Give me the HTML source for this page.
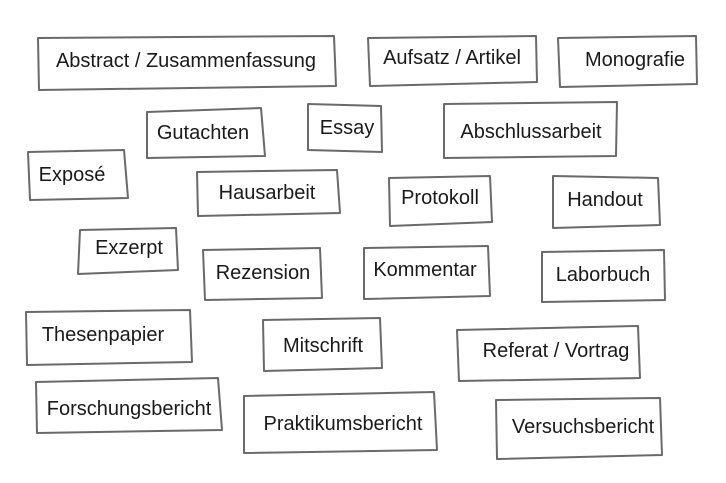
<!DOCTYPE html>
<html><head><meta charset="utf-8"><style>
html,body{margin:0;padding:0;background:#fff;width:726px;height:483px;overflow:hidden}
svg{display:block}
text{font-family:"Liberation Sans",sans-serif;font-size:20px;fill:#1a1a1a;text-anchor:middle;dominant-baseline:central}
polygon{fill:none;stroke:#6a6a6a;stroke-width:2;stroke-linejoin:round}
</style></head><body>
<svg width="726" height="483" viewBox="0 0 726 483">
<polygon points="38,38 334,36 336,86 39,90"/><text x="186" y="61">Abstract / Zusammenfassung</text>
<polygon points="368,38 536,36 537,82 370,86"/><text x="452" y="58">Aufsatz / Artikel</text>
<polygon points="558,38 696,36 697,84 560,87"/><text x="635" y="60">Monografie</text>
<polygon points="147,112 261,108 265,156 147,158"/><text x="203" y="133">Gutachten</text>
<polygon points="308,104 381,106 382,152 308,150"/><text x="347" y="128">Essay</text>
<polygon points="444,104 617,102 616,156 444,158"/><text x="531" y="132">Abschlussarbeit</text>
<polygon points="28,152 124,150 128,198 30,200"/><text x="72" y="175">Exposé</text>
<polygon points="197,172 337,170 340,213 198,216"/><text x="267" y="193">Hausarbeit</text>
<polygon points="389,178 490,176 492,222 390,226"/><text x="440" y="198">Protokoll</text>
<polygon points="553,176 658,178 660,225 553,228"/><text x="605" y="200">Handout</text>
<polygon points="80,230 176,228 178,270 78,274"/><text x="129" y="248">Exzerpt</text>
<polygon points="203,250 320,248 322,298 205,300"/><text x="263" y="273">Rezension</text>
<polygon points="364,248 488,246 490,296 364,299"/><text x="425" y="270">Kommentar</text>
<polygon points="542,252 664,250 665,300 542,302"/><text x="603" y="275">Laborbuch</text>
<polygon points="26,312 190,310 192,362 27,365"/><text x="103" y="335">Thesenpapier</text>
<polygon points="263,320 380,318 382,368 264,371"/><text x="323" y="346">Mitschrift</text>
<polygon points="457,330 638,326 640,378 459,381"/><text x="556" y="351">Referat / Vortrag</text>
<polygon points="36,382 218,378 222,430 37,433"/><text x="129" y="409">Forschungsbericht</text>
<polygon points="244,396 434,392 437,450 244,453"/><text x="343" y="424">Praktikumsbericht</text>
<polygon points="496,400 660,398 662,455 497,459"/><text x="583" y="427">Versuchsbericht</text>
</svg>
</body></html>
